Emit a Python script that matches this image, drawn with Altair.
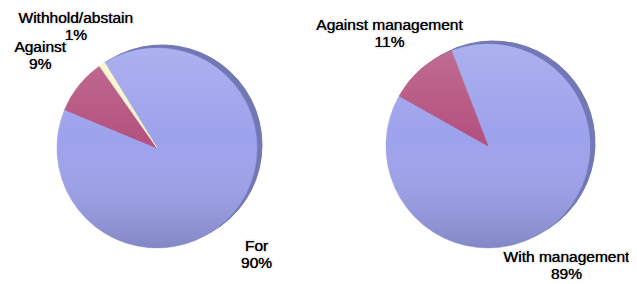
import math
import altair as alt
import pandas as pd

# ---- data ----
left_labels = ["For", "Against", "Withhold/abstain"]
left_values = [90, 9, 1]
right_labels = ["With management", "Against management"]
right_values = [89, 11]

# ---- styles ----
left_colors = ["#9da2ec", "#b5527f", "#fbf7cb"]
right_colors = ["#9da2ec", "#b5527f"]
RIM = "#7277b5"
FONT = "Liberation Sans"


def make_df(labels, values):
    return pd.DataFrame({
        "label": labels,
        "value": values,
        "order": list(range(len(labels))),
        "text": [f"{l}\n{v}%" for l, v in zip(labels, values)],
    })


shade = alt.LinearGradient(
    gradient="linear",
    stops=[
        alt.GradientStop(color="rgba(255,255,255,0.16)", offset=0),
        alt.GradientStop(color="rgba(255,255,255,0.0)", offset=0.45),
        alt.GradientStop(color="rgba(0,0,0,0.17)", offset=1),
    ],
    x1=0, x2=0, y1=0, y2=1,
)


def pie(labels, values, colors, cx, cy, R, start_deg, lx, ly, lr, lshift):
    df = make_df(labels, values)
    a = math.radians(start_deg)
    b = math.radians(start_deg + lshift)
    th = alt.Theta("value:Q", stack=True, scale=alt.Scale(range=[a, a + 2 * math.pi]))
    thl = alt.Theta("value:Q", stack=True, scale=alt.Scale(range=[b, b + 2 * math.pi]))
    base = alt.Chart(df)
    rim = base.mark_arc(radius=R, fill=RIM, stroke=RIM, strokeWidth=1).encode(
        theta=th, order="order:O", x=alt.value(cx + 5), y=alt.value(cy - 3)
    )
    slices = base.mark_arc(radius=R, strokeWidth=0.6).encode(
        theta=th,
        order="order:O",
        fill=alt.Fill("label:N", scale=alt.Scale(domain=labels, range=colors), legend=None),
        stroke=alt.Stroke("label:N", scale=alt.Scale(domain=labels, range=colors), legend=None),
        x=alt.value(cx), y=alt.value(cy),
    )
    overlay = alt.Chart(alt.Data(values=[{"k": 1}])).mark_arc(
        radius=R, theta=0, theta2=2 * math.pi, fill=shade
    ).encode(x=alt.value(cx), y=alt.value(cy))
    glow = base.mark_text(
        radius=lr, font=FONT, fontSize=15.5, lineBreak="\n", lineHeight=17,
        align="center", baseline="middle", fill="#000",
        stroke="#999", strokeWidth=3, strokeOpacity=0.18, strokeJoin="round",
    ).encode(theta=thl, order="order:O", text="text:N", x=alt.value(lx), y=alt.value(ly))
    text = base.mark_text(
        radius=lr, font=FONT, fontSize=15.5, lineBreak="\n", lineHeight=17,
        align="center", baseline="middle", fill="#000",
    ).encode(theta=thl, order="order:O", text="text:N", x=alt.value(lx), y=alt.value(ly))
    return [rim, slices, overlay, glow, text]


layers = pie(left_labels, left_values, left_colors, 149, 140, 100, -31.5, 142, 137, 147, 3) + \
         pie(right_labels, right_values, right_colors, 480, 138, 102, -21, 470, 133, 146, 3.5)

chart = alt.layer(*layers).resolve_scale(
    theta="independent", fill="independent", stroke="independent"
).properties(
    width=621, height=276, autosize=alt.AutoSizeParams(type="none"), padding=0
).configure_view(strokeWidth=0)

chart.save("out.html", embed_options={"renderer": "svg", "actions": False})
